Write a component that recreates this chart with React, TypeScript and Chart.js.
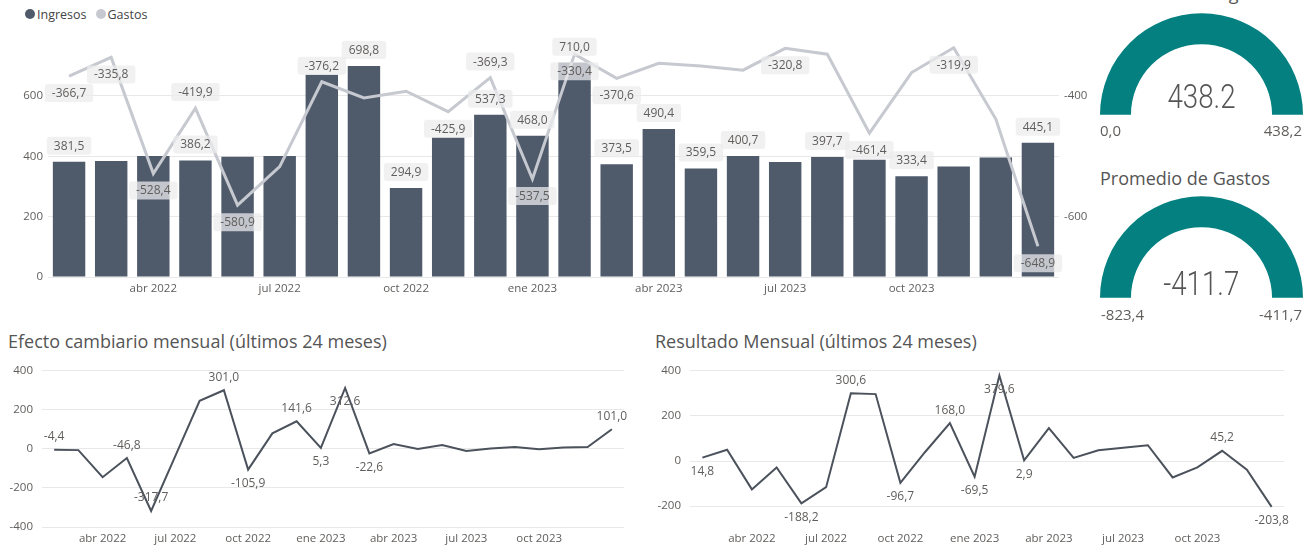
import React, { useEffect, useRef } from "react";
import { Chart, registerables } from "chart.js";

Chart.register(...registerables);

const FONT = "'Open Sans', 'Noto Sans', sans-serif";
const GAUGE_FONT = "Roboto, 'Open Sans', sans-serif";
const TEXT = "#605e5c";
const TITLE = "#555555";
const BAR = "#4f5a6b";
const LINE_LIGHT = "#c6c9cf";
const LINE_DARK = "#4b525c";
const TEAL = "#048080";
const GRID = "#e8e8e8";

// ---- data ----
const months = [
  "feb 2022", "mar 2022", "abr 2022", "may 2022", "jun 2022", "jul 2022",
  "ago 2022", "sep 2022", "oct 2022", "nov 2022", "dic 2022", "ene 2023",
  "feb 2023", "mar 2023", "abr 2023", "may 2023", "jun 2023", "jul 2023",
  "ago 2023", "sep 2023", "oct 2023", "nov 2023", "dic 2023", "ene 2024",
];
const axisMonthLabels = ["abr 2022", "jul 2022", "oct 2022", "ene 2023", "abr 2023", "jul 2023", "oct 2023"];

const ingresos = [
  381.5, 384, 401, 386.2, 398, 401, 670, 698.8, 294.9, 462, 537.3, 468.0,
  710.0, 373.5, 490.4, 359.5, 400.7, 381, 397.7, 388, 333.4, 366, 396, 445.1,
];
const gastos = [
  -366.7, -335.8, -528.4, -419.9, -580.9, -517, -376.2, -403, -392, -425.9, -369.3, -537.5,
  -330.4, -370.6, -345.5, -350, -357, -320.8, -330.6, -461.4, -361, -319.9, -438, -648.9,
];
const efectoCambiario = [
  -4.4, -6, -145, -46.8, -317.7, -35, 247, 301.0, -105.9, 80, 141.6, 5.3,
  312.6, -22.6, 25, 0, 20, -10, 2, 10, -2, 7, 10, 101.0,
];
const resultadoMensual = [
  14.8, 50, -126, -29, -188.2, -116, 300.6, 297, -96.7, 40, 168.0, -69.5,
  379.6, 2.9, 146, 14, 48, 59, 70, -73, -28, 45.2, -39, -203.8,
];

// axis ticks
const ingresosTicks = [0, 200, 400, 600];
const gastosTicks = [-600, -400];
const efectoTicks = [-400, -200, 0, 200, 400];
const resultadoTicks = [-200, 0, 200, 400];

// which points carry a data label
const ingresosLabelIdx = [0, 3, 7, 8, 10, 11, 12, 13, 14, 15, 16, 18, 20, 23];
const gastosLabelAboveIdx = [3, 6, 10];
const gastosLabelBelowIdx = [0, 1, 2, 4, 9, 11, 12, 13, 17, 19, 21, 23];
const efectoLabelAboveIdx = [0, 3, 4, 7, 10, 23];
const efectoLabelBelowIdx = [8, 11, 12, 13];
const resultadoLabelAboveIdx = [6, 10, 21];
const resultadoLabelBelowIdx = [0, 4, 8, 11, 12, 13, 23];

const promedioIngresos = 438.2;
const ingresosGaugeMin = 0;
const ingresosGaugeMax = 438.2;
const promedioGastos = -411.7;
const gastosGaugeMin = -823.4;
const gastosGaugeMax = -411.7;

const fmtComma = (v: number) => v.toFixed(1).replace(".", ",");
const fmtDot = (v: number) => v.toFixed(1);

// ---- plugins ----
const boxLabelPlugin = {
  id: "boxLabels",
  afterDatasetsDraw(chart: any) {
    const ctx = chart.ctx;
    ctx.save();
    ctx.font = `12px ${FONT}`;
    ctx.textAlign = "center";
    ctx.textBaseline = "middle";
    const drawBox = (text: string, cx: number, cy: number) => {
      const w = ctx.measureText(text).width + 14;
      const h = 18;
      ctx.fillStyle = "rgba(236,236,238,0.74)";
      ctx.beginPath();
      if (ctx.roundRect) ctx.roundRect(cx - w / 2, cy - h / 2, w, h, 3);
      else ctx.rect(cx - w / 2, cy - h / 2, w, h);
      ctx.fill();
      ctx.fillStyle = TEXT;
      ctx.fillText(text, cx, cy + 0.5);
    };
    const barMeta = chart.getDatasetMeta(0);
    ingresosLabelIdx.forEach((i) => {
      const el = barMeta.data[i];
      drawBox(fmtComma(ingresos[i]), el.x, el.y - 16);
    });
    const lineMeta = chart.getDatasetMeta(1);
    gastosLabelAboveIdx.forEach((i) => {
      const el = lineMeta.data[i];
      drawBox(fmtComma(gastos[i]), el.x, el.y - 16);
    });
    gastosLabelBelowIdx.forEach((i) => {
      const el = lineMeta.data[i];
      drawBox(fmtComma(gastos[i]), el.x, el.y + 17);
    });
    ctx.restore();
  },
};

const pointLabelPlugin = {
  id: "pointLabels",
  afterDatasetsDraw(chart: any, _args: any, opts: any) {
    const ctx = chart.ctx;
    const values: number[] = chart.data.datasets[0].data;
    const meta = chart.getDatasetMeta(0);
    ctx.save();
    ctx.font = `12px ${FONT}`;
    ctx.textAlign = "center";
    ctx.textBaseline = "middle";
    ctx.fillStyle = TEXT;
    (opts.above || []).forEach((i: number) => {
      const el = meta.data[i];
      ctx.fillText(fmtComma(values[i]), el.x, el.y - 13);
    });
    (opts.below || []).forEach((i: number) => {
      const el = meta.data[i];
      ctx.fillText(fmtComma(values[i]), el.x, el.y + 14);
    });
    ctx.restore();
  },
};

const fixedTicks = (values: number[]) => (s: any) => {
  s.ticks = values.map((v) => ({ value: v }));
};

const tickFont = { family: FONT, size: 11.5 };

function topConfig(): any {
  return {
    type: "bar",
    data: {
      labels: months,
      datasets: [
        {
          type: "bar",
          label: "Ingresos",
          data: ingresos,
          backgroundColor: BAR,
          yAxisID: "y",
          order: 1,
          categoryPercentage: 1,
          barPercentage: 0.77,
        },
        {
          type: "line",
          label: "Gastos",
          data: gastos,
          borderColor: LINE_LIGHT,
          borderWidth: 3,
          pointRadius: 0,
          tension: 0,
          yAxisID: "y1",
          order: 0,
        },
      ],
    },
    options: {
      animation: false,
      responsive: false,
      events: [],
      layout: { padding: { top: 37, left: 0, right: 0, bottom: 0 } },
      plugins: { legend: { display: false }, tooltip: { enabled: false } },
      scales: {
        x: {
          type: "category",
          offset: true,
          grid: { display: false, drawTicks: false },
          border: { display: false },
          ticks: {
            autoSkip: false,
            maxRotation: 0,
            padding: 5,
            color: TEXT,
            font: tickFont,
            callback: (_v: any, i: number) => (axisMonthLabels.includes(months[i]) ? months[i] : ""),
          },
          afterFit: (s: any) => { s.height = 23; },
        },
        y: {
          position: "left",
          min: 0,
          max: 795,
          grid: { color: GRID, drawTicks: false },
          border: { display: false },
          ticks: { padding: 5, color: TEXT, font: tickFont, autoSkip: false },
          afterBuildTicks: fixedTicks(ingresosTicks),
          afterFit: (s: any) => { s.width = 48; },
        },
        y1: {
          position: "right",
          min: -700,
          max: -302,
          grid: { display: false, drawTicks: false },
          border: { display: false },
          ticks: { padding: 5, color: TEXT, font: tickFont, autoSkip: false },
          afterBuildTicks: fixedTicks(gastosTicks),
          afterFit: (s: any) => { s.width = 41; },
        },
      },
    },
    plugins: [boxLabelPlugin],
  };
}

function lineConfig(values: number[], min: number, max: number, ticks: number[], leftW: number, rightPad: number, above: number[], below: number[]): any {
  return {
    type: "line",
    data: {
      labels: months,
      datasets: [
        {
          data: values,
          borderColor: LINE_DARK,
          borderWidth: 2,
          pointRadius: 0,
          tension: 0,
        },
      ],
    },
    options: {
      animation: false,
      responsive: false,
      events: [],
      layout: { padding: { top: 13, left: 0, right: rightPad, bottom: 0 } },
      plugins: {
        legend: { display: false },
        tooltip: { enabled: false },
        pointLabels: { above, below },
      },
      scales: {
        x: {
          type: "category",
          offset: true,
          grid: { display: false, drawTicks: false },
          border: { display: false },
          ticks: {
            autoSkip: false,
            maxRotation: 0,
            padding: 5,
            color: TEXT,
            font: tickFont,
            callback: (_v: any, i: number) => (axisMonthLabels.includes(months[i]) ? months[i] : ""),
          },
          afterFit: (s: any) => { s.height = 21; },
        },
        y: {
          min,
          max,
          grid: { color: GRID, drawTicks: false },
          border: { display: false },
          ticks: { padding: 9, color: TEXT, font: tickFont, autoSkip: false },
          afterBuildTicks: fixedTicks(ticks),
          afterFit: (s: any) => { s.width = leftW; },
        },
      },
    },
    plugins: [pointLabelPlugin],
  };
}

function gaugeConfig(value: number, min: number, max: number): any {
  return {
    type: "doughnut",
    data: {
      datasets: [
        {
          data: [value - min, max - value],
          backgroundColor: [TEAL, "#e6e6e6"],
          borderWidth: 0,
        },
      ],
    },
    options: {
      animation: false,
      responsive: false,
      events: [],
      circumference: 180,
      rotation: -90,
      cutout: "69.5%",
      layout: { padding: 0 },
      plugins: { legend: { display: false }, tooltip: { enabled: false } },
    },
  };
}

// text positioned by its baseline (line-height = size)
function Txt(props: {
  x: number; base: number; size: number; children: any; color?: string; family?: string;
  weight?: number; align?: "left" | "right" | "center"; asc?: number; scaleX?: number;
}) {
  const { x, base, size, children, color = TEXT, family = FONT, weight = 400, align = "left", asc = 0.888, scaleX = 1 } = props;
  const top = base - asc * size;
  const style: any = {
    position: "absolute",
    top,
    fontFamily: family,
    fontSize: size,
    fontWeight: weight,
    lineHeight: `${size}px`,
    color,
    whiteSpace: "nowrap",
  };
  if (align === "left") style.left = x;
  else if (align === "right") style.right = 1313 - x;
  else {
    style.left = x - 200;
    style.width = 400;
    style.textAlign = "center";
  }
  return (
    <div style={style}>
      <span style={{ display: "inline-block", transform: `scaleX(${scaleX})`, transformOrigin: align === "right" ? "right" : align === "left" ? "left" : "center" }}>
        {children}
      </span>
    </div>
  );
}

export default function App() {
  const topRef = useRef<HTMLCanvasElement>(null);
  const efRef = useRef<HTMLCanvasElement>(null);
  const resRef = useRef<HTMLCanvasElement>(null);
  const g1Ref = useRef<HTMLCanvasElement>(null);
  const g2Ref = useRef<HTMLCanvasElement>(null);

  useEffect(() => {
    const charts: Chart[] = [];
    if (topRef.current) charts.push(new Chart(topRef.current, topConfig()));
    if (efRef.current)
      charts.push(new Chart(efRef.current, lineConfig(efectoCambiario, -400, 400, efectoTicks, 42, 16, efectoLabelAboveIdx, efectoLabelBelowIdx)));
    if (resRef.current)
      charts.push(new Chart(resRef.current, lineConfig(resultadoMensual, -293, 400, resultadoTicks, 50, 29, resultadoLabelAboveIdx, resultadoLabelBelowIdx)));
    if (g1Ref.current) charts.push(new Chart(g1Ref.current, gaugeConfig(promedioIngresos, ingresosGaugeMin, ingresosGaugeMax)));
    if (g2Ref.current) charts.push(new Chart(g2Ref.current, gaugeConfig(promedioGastos, gastosGaugeMin, gastosGaugeMax)));
    return () => charts.forEach((c) => c.destroy());
  }, []);

  const abs = (l: number, t: number): any => ({ position: "absolute", left: l, top: t });

  return (
    <div style={{ position: "fixed", left: 0, top: 0, width: 1313, height: 548, background: "#ffffff", overflow: "hidden", fontFamily: FONT }}>
      {/* legend */}
      <div style={{ position: "absolute", left: 25, top: 5, height: 18, display: "flex", alignItems: "center", fontSize: 12.5, color: "#444", fontFamily: FONT }}>
        <span style={{ width: 10, height: 10, borderRadius: 5, background: BAR, display: "inline-block", marginRight: 2 }} />
        <span>Ingresos</span>
        <span style={{ width: 10, height: 10, borderRadius: 5, background: LINE_LIGHT, display: "inline-block", marginLeft: 9, marginRight: 2 }} />
        <span>Gastos</span>
      </div>

      <canvas ref={topRef} width={1100} height={300} style={{ ...abs(0, 0), width: 1100, height: 300 }} />

      {/* gauge 1 */}
      <Txt x={1100} base={0} size={18} color={TITLE}>Promedio de Ingresos</Txt>
      <canvas ref={g1Ref} width={203} height={102} style={{ ...abs(1100, 13), width: 203, height: 102 }} />
      <Txt x={1201.5} base={108} size={33} align="center" family={GAUGE_FONT} weight={300} asc={0.842} color="#555" scaleX={0.84}>
        {fmtDot(promedioIngresos)}
      </Txt>
      <Txt x={1100} base={136.5} size={15}>{fmtComma(ingresosGaugeMin)}</Txt>
      <Txt x={1302} base={136.5} size={15} align="right">{fmtComma(ingresosGaugeMax)}</Txt>

      {/* gauge 2 */}
      <Txt x={1100} base={185} size={18} color={TITLE}>Promedio de Gastos</Txt>
      <canvas ref={g2Ref} width={203} height={102} style={{ ...abs(1100, 196), width: 203, height: 102 }} />
      <Txt x={1201.5} base={295} size={33} align="center" family={GAUGE_FONT} weight={300} asc={0.842} color="#555" scaleX={0.84}>
        {fmtDot(promedioGastos)}
      </Txt>
      <Txt x={1101} base={320} size={15}>{fmtComma(gastosGaugeMin)}</Txt>
      <Txt x={1302} base={320} size={15} align="right">{fmtComma(gastosGaugeMax)}</Txt>

      {/* bottom charts */}
      <Txt x={8} base={348.3} size={18} color={TITLE}>Efecto cambiario mensual (últimos 24 meses)</Txt>
      <canvas ref={efRef} width={640} height={193} style={{ ...abs(0, 355), width: 640, height: 193 }} />

      <Txt x={655} base={348.3} size={18} color={TITLE}>Resultado Mensual (últimos 24 meses)</Txt>
      <canvas ref={resRef} width={673} height={193} style={{ ...abs(640, 355), width: 673, height: 193 }} />
    </div>
  );
}
